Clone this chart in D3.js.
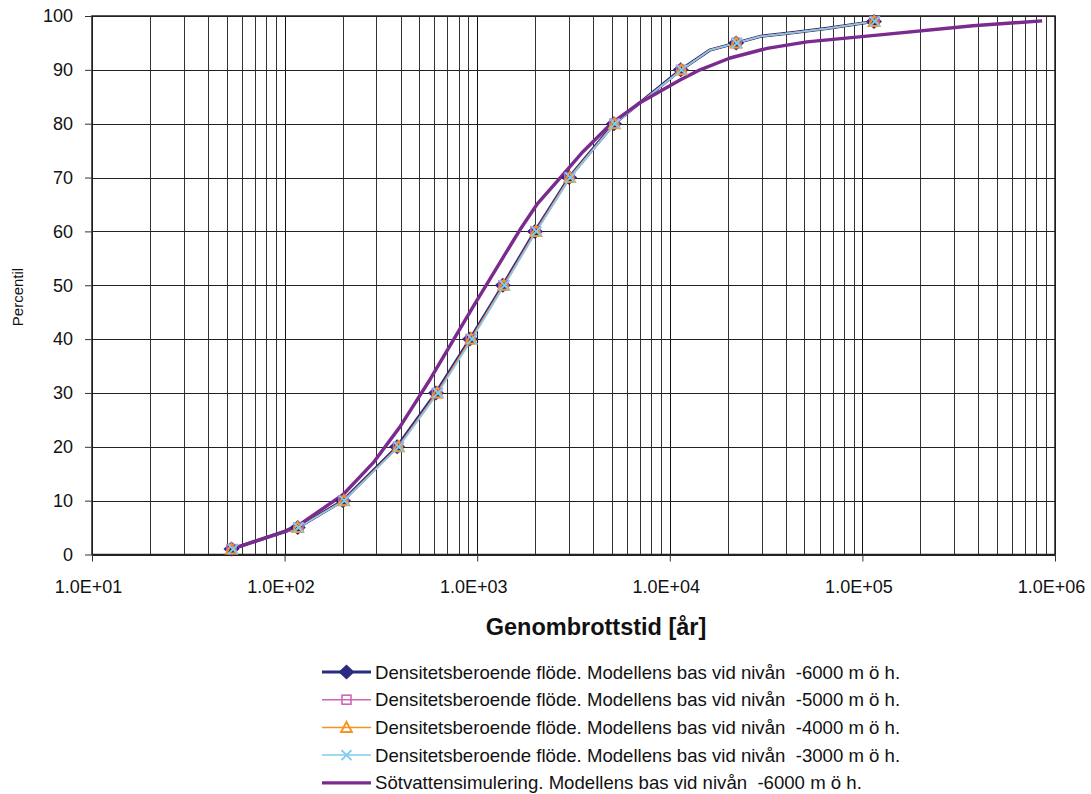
<!DOCTYPE html>
<html>
<head>
<meta charset="utf-8">
<script src="https://cdn.jsdelivr.net/npm/d3@7"></script>
<style>
  body { margin: 0; background: #fff; }
  text { font-family: Arial, "Liberation Sans", sans-serif; fill: #111; }
</style>
</head>
<body>
<div id="canvas"></div>
<script>
// Data variables
var percentiler = [1, 5, 10, 20, 30, 40, 50, 60, 70, 80, 90, 95, 99]
var tid_6000 = [53, 117, 201, 384, 611, 918, 1360, 1995, 3000, 5130, 11400, 22100, 114800]
var tid_5000 = [53, 118, 202, 388, 618, 925, 1370, 2005, 3010, 5150, 11450, 22200, 115500]
var tid_4000 = [53, 117, 203, 390, 620, 930, 1375, 2020, 3020, 5160, 11500, 22100, 115000]
var tid_3000 = [54, 118, 204, 392, 626, 940, 1385, 2030, 3040, 5180, 11500, 22300, 116000]
// extra bends of the density lines in the upper tail (no markers there)
var svans_percentil = [93.7, 96.2, 96.9, 97.7, 98.8]
var svans_tid = [16200, 29400, 43600, 65500, 105700]
// freshwater simulation
var sot_percentil = [1, 4.3, 5.6, 11.1, 17, 23.7, 32.5, 46, 60.3, 65, 71.4, 74.8, 80, 83.9, 88.1, 90, 92.2, 94, 95.2, 96.5, 98.2, 99.1]
var sot_tid = [53, 100, 120, 201, 288, 397, 569, 951, 1667, 2042, 2924, 3540, 4955, 7000, 11300, 14350, 20550, 32000, 51500, 123300, 375000, 857000]
var x_ticks = [1e1, 1e2, 1e3, 1e4, 1e5, 1e6]
var y_ticks = [0, 10, 20, 30, 40, 50, 60, 70, 80, 90, 100]
var serie_namn = [
    "Densitetsberoende flöde. Modellens bas vid nivån  -6000 m ö h.",
    "Densitetsberoende flöde. Modellens bas vid nivån  -5000 m ö h.",
    "Densitetsberoende flöde. Modellens bas vid nivån  -4000 m ö h.",
    "Densitetsberoende flöde. Modellens bas vid nivån  -3000 m ö h.",
    "Sötvattensimulering. Modellens bas vid nivån  -6000 m ö h."
]

// Display variables
var total_width = 1091, total_height = 794
var margin = {top: 16, left: 92}
var width = 963, height = 538.5
var colours = ["#2b2b80", "#d066b4", "#f7931e", "#7fcdee", "#7b2a8e"]
var font = "Arial, 'Liberation Sans', sans-serif"

var svg = d3.select("#canvas").append("svg").attr("width", total_width).attr("height", total_height)
svg.append("rect").attr("width", total_width).attr("height", total_height).attr("fill", "#fff")
var g = svg.append("g").attr("transform", "translate(" + margin.left + "," + margin.top + ")")

// Scales
var x = d3.scaleLog().domain([10, 1e6]).range([0, width])
var y = d3.scaleLinear().domain([0, 100]).range([height, 0])

// Grid - all 1..9 multiples vertically, every 10 horizontally
g.append("g").selectAll("line").data(x.ticks()).enter().append("line")
    .attr("x1", d => Math.round(x(d)) + 0.5).attr("x2", d => Math.round(x(d)) + 0.5)
    .attr("y1", 0).attr("y2", height)
    .attr("stroke", d => x_ticks.includes(d) ? "#111" : "#333").attr("stroke-width", 1)
g.append("g").selectAll("line").data(y_ticks).enter().append("line")
    .attr("x1", 0).attr("x2", width)
    .attr("y1", d => Math.round(y(d)) + 0.5).attr("y2", d => Math.round(y(d)) + 0.5)
    .attr("stroke", "#222").attr("stroke-width", 1)
g.append("rect").attr("x", 0).attr("y", 0).attr("width", width).attr("height", height)
    .attr("fill", "none").attr("stroke", "#222").attr("stroke-width", 1.5)

// Axes
var x_axis = g.append("g").attr("transform", "translate(0," + height + ")")
    .call(d3.axisBottom(x).tickValues(x_ticks).tickSize(7).tickSizeOuter(0).tickPadding(19)
        .tickFormat(d => "1.0E+0" + Math.round(Math.log10(d))))
x_axis.select(".domain").remove()
x_axis.selectAll("line").attr("stroke", "#333")
x_axis.selectAll("text").attr("font-size", 18).attr("dx", -4).style("font-family", font).attr("fill", "#111")

var y_axis = g.append("g")
    .call(d3.axisLeft(y).tickValues(y_ticks).tickSize(7).tickSizeOuter(0).tickPadding(12))
y_axis.select(".domain").remove()
y_axis.selectAll("line").attr("stroke", "#333")
y_axis.selectAll("text").attr("font-size", 18).style("font-family", font).attr("fill", "#111")

svg.append("text").attr("x", 596).attr("y", 635).attr("text-anchor", "middle")
    .attr("font-size", 23.5).attr("font-weight", "bold").text("Genombrottstid [år]")
svg.append("text").attr("transform", "translate(23,297) rotate(-90)").attr("text-anchor", "middle")
    .attr("font-size", 15).text("Percentil")

// Series
var density = [tid_6000, tid_5000, tid_4000, tid_3000]
var line = d3.line().x(d => x(d[0])).y(d => y(d[1]))
function line_points(tid) {
    var pts = tid.map((t, i) => [t, percentiler[i]])
    svans_tid.forEach((t, i) => pts.push([t, svans_percentil[i]]))
    return pts.sort((a, b) => a[1] - b[1])
}
var widths = [3.2, 1.5, 1.5, 1.5]
density.forEach(function(tid, s) {
    g.append("path").datum(line_points(tid)).attr("d", line)
        .attr("fill", "none").attr("stroke", colours[s]).attr("stroke-width", widths[s])
        .attr("stroke-linejoin", "round")
})
g.append("path").datum(sot_tid.map((t, i) => [t, sot_percentil[i]])).attr("d", line)
    .attr("fill", "none").attr("stroke", colours[4]).attr("stroke-width", 3.4).attr("stroke-linejoin", "round")

// Markers
function marker(sel, s) {
    if (s == 0) sel.append("path").attr("d", "M0,-7.5L8,0L0,7.5L-8,0Z").attr("fill", colours[0])
    if (s == 1) sel.append("rect").attr("x", -4.5).attr("y", -4.5).attr("width", 9).attr("height", 9)
        .attr("fill", "none").attr("stroke", colours[1]).attr("stroke-width", 1.6)
    if (s == 2) sel.append("path").attr("d", "M0,-5.5L5.3,4.5L-5.3,4.5Z")
        .attr("fill", "none").attr("stroke", colours[2]).attr("stroke-width", 2)
    if (s == 3) sel.append("path").attr("d", "M-5,-5L5,5M-5,5L5,-5")
        .attr("fill", "none").attr("stroke", colours[3]).attr("stroke-width", 2)
}
density.forEach(function(tid, s) {
    tid.forEach(function(t, i) {
        var m = g.append("g").attr("transform", "translate(" + x(t) + "," + y(percentiler[i]) + ")")
        marker(m, s)
    })
})

// Legend
var legend_x = 322, legend_y = 672, legend_step = 27.7
serie_namn.forEach(function(name, s) {
    var ly = legend_y + s * legend_step
    svg.append("line").attr("x1", legend_x).attr("x2", legend_x + 49).attr("y1", ly).attr("y2", ly)
        .attr("stroke", colours[s]).attr("stroke-width", (s == 0 || s == 4) ? 3.2 : 1.5)
    if (s < 4) marker(svg.append("g").attr("transform", "translate(" + (legend_x + 24.5) + "," + ly + ")"), s)
    svg.append("text").attr("x", legend_x + 53).attr("y", ly + 6.5).attr("font-size", 18.6)
        .style("white-space", "pre").text(name)
})
</script>
</body>
</html>
